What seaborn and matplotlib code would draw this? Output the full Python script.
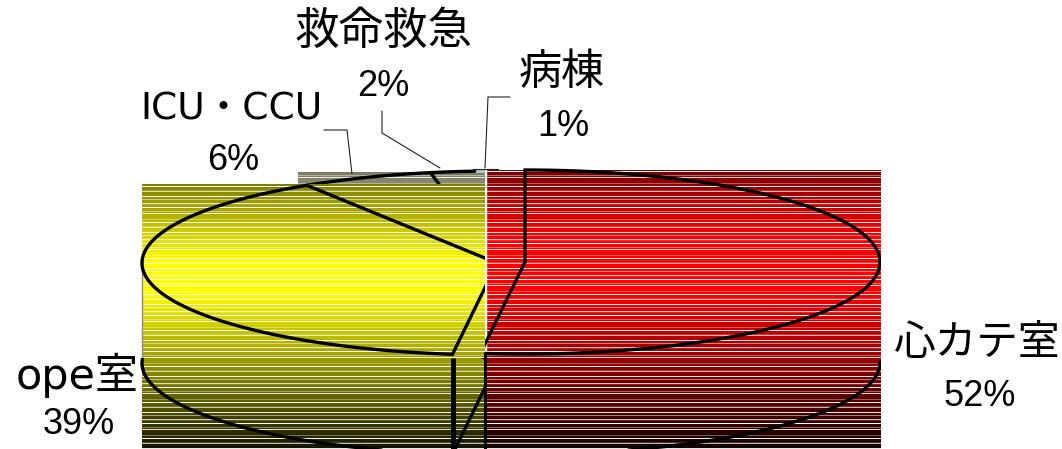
import numpy as np
import matplotlib
matplotlib.use("Agg")
import matplotlib.pyplot as plt
from matplotlib.patches import Rectangle
import seaborn as sns

# Share of each location, clockwise from twelve o'clock
categories = ["心カテ室", "ope室", "ICU・CCU", "救命救急", "病棟"]
shares = [52, 39, 6, 2, 1]

# Banding of the gradient fills: how much white is mixed into each pixel row
row_whitening = [0, 0, 0, .35, 0, 0, .95, 0, 0, 0, .2, .7, 0, 0, 0, 0, .9,
                 0, 0, .5, 0, 0, 0, .75, .15, 0, 0, 1, 0, 0, 0, .4, 0, .85, 0, 0]

sns.set_theme(style="white")
CJK = ["Noto Sans CJK JP", "DejaVu Sans"]
WIDE = ["DejaVu Sans", "Noto Sans CJK JP"]
DIGITS = ["Liberation Sans", "DejaVu Sans"]

fig = plt.figure(figsize=(10.62, 4.49), dpi=100)
ax = fig.add_axes([0, 0, 1, 1])
ax.axis("off")


def gradient_rows(stops, top):
    """Stack blended colour runs into one column of rows with white banding."""
    rows = []
    for (c0, y0), (c1, y1) in zip(stops, stops[1:]):
        rows.extend(sns.blend_palette([c0, c1], n_colors=y1 - y0))
    rows = np.array(rows)[:, :3]
    marks = np.array([row_whitening[(top + i) % len(row_whitening)] for i in range(len(rows))])
    return rows + (1 - rows) * marks[:, None]


def band(stops, x0, x1):
    top, bottom = stops[0][1], stops[-1][1]
    rows = gradient_rows(stops, top)[:, None, :]
    ax.imshow(rows, extent=(x0, x1, bottom, top), aspect="auto", interpolation="nearest", zorder=1)


SPLIT_X = 485
BOTTOM = 449
band([("#7a0000", 170), ("#ff0000", 238), ("#ff0000", 288), ("#120000", BOTTOM)], SPLIT_X + 1, 881)
band([("#7f7f00", 184), ("#ffff00", 262), ("#ffff00", 292), ("#151500", BOTTOM)], 142, SPLIT_X)
band([("#7d7d66", 172), ("#8a8a70", 184)], 298, SPLIT_X)
ax.add_patch(Rectangle((473, 170), SPLIT_X - 473, 2.5, color="#a8c8d0", lw=0, zorder=1))
ax.plot([SPLIT_X + .5] * 2, [170, 352], color="white", lw=1, zorder=2)

# Pie geometry on the sheared sheet
RX, RY, DEPTH = 355, 92, 100
RED_C = (525, 262)
REST_C = (497, 263)
edges = np.cumsum([0] + shares) / sum(shares) * 2 * np.pi


def on_rim(center, angle, dy=0):
    return center[0] + RX * np.sin(angle), center[1] - RY * np.cos(angle) + dy


def wedge(center, a0, a1, dy=0, closed=True):
    t = np.linspace(a0, a1, 120)
    xs, ys = on_rim(center, t, dy)
    if closed:
        xs = np.r_[center[0], xs, center[0]]
        ys = np.r_[center[1] + dy, ys, center[1] + dy]
    return xs, ys


def outline(xs, ys, clip, lw=2.4):
    line, = ax.plot(xs, ys, color="black", lw=lw, solid_joinstyle="miter", zorder=3)
    line.set_clip_path(Rectangle((clip[0], clip[1]), clip[2] - clip[0], clip[3] - clip[1],
                                 transform=ax.transData))


right_clip = (SPLIT_X, 0, 881, BOTTOM)
left_clip = (140, 0, SPLIT_X, BOTTOM)

# Cath-lab slice: top face and its lower rim
outline(*wedge(RED_C, edges[0], edges[1]), right_clip)
outline(*wedge(RED_C, np.pi / 2, edges[1], DEPTH, closed=False), right_clip)

# Operating-room slice: top face, lower rim and front edges
outline(*wedge(REST_C, edges[1], edges[2]), left_clip)
outline(*wedge(REST_C, edges[1], edges[2], DEPTH), (140, 358, SPLIT_X, BOTTOM))
front_x = on_rim(REST_C, edges[1])[0]
ax.plot([front_x, front_x], [358, BOTTOM], color="black", lw=3.6, zorder=3, solid_capstyle="butt")
ax.plot([SPLIT_X, SPLIT_X], [352, BOTTOM], color="black", lw=2.2, zorder=3, solid_capstyle="butt")
ax.plot([142, 142], [262, 358], color="#8c8c8c", lw=1, zorder=2)

# Two small slices on the far side; the narrower one shows only its rim
outline(*wedge(REST_C, edges[2], edges[3]), (140, 0, SPLIT_X, 184))
outline(*wedge(REST_C, edges[3], edges[4], closed=False), (140, 0, SPLIT_X, 184))

# Leader lines from labels to slices
leaders = [([324, 347, 352], [130, 130, 174]),
           ([382, 382, 440], [111, 133, 168]),
           ([510, 488, 485], [97, 97, 168]),
           ([473, 498], [168.5, 168.5])]
for xs, ys in leaders:
    ax.plot(xs, ys, color="#222222", lw=0.8, zorder=4)

# Labels: name above percentage
name_pos = [(977, 343), (77, 375), (231, 110), (383, 31), (562, 73)]
pct_pos = [(980, 397), (79, 425), (233, 160), (383, 86), (563, 126)]
name_size = [30, 31, 27, 32, 31]
for name, share, size, (nx, ny), (px, py) in zip(categories, shares, name_size, name_pos, pct_pos):
    fam = WIDE if name[0].isascii() else CJK
    ax.text(nx, ny, name, family=fam, fontsize=size, color="black", ha="center", va="center", zorder=5)
    ax.text(px, py, f"{share}%", family=DIGITS, fontsize=26, color="black", ha="center", va="center", zorder=5)

ax.set_xlim(0, 1062)
ax.set_ylim(449, 0)
fig.savefig("out.png", dpi=100, facecolor="white")
